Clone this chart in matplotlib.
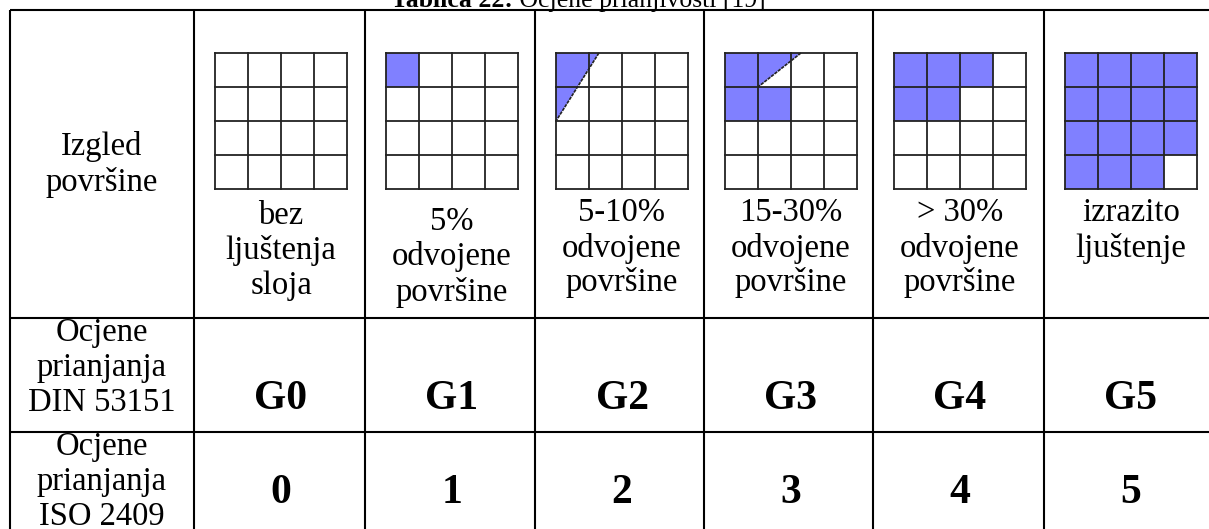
import matplotlib
matplotlib.use('Agg')
import matplotlib.pyplot as plt
from matplotlib.patches import Rectangle, Polygon

# table content
title_bold = 'Tablica 22:'
title_rest = ' Ocjene prianjivosti [19]'
row_headers = ['Izgled\npovršine', 'Ocjene\nprianjanja\nDIN 53151', 'Ocjene\nprianjanja\nISO 2409']
descriptions = ['bez\nljuštenja\nsloja', '5%\nodvojene\npovršine', '5-10%\nodvojene\npovršine',
                '15-30%\nodvojene\npovršine', '> 30%\nodvojene\npovršine', 'izrazito\nljuštenje']
din_grades = ['G0', 'G1', 'G2', 'G3', 'G4', 'G5']
iso_grades = ['0', '1', '2', '3', '4', '5']

# filled cells of each 4x4 icon as (row, col), plus partial triangles in cell units (x, y)
filled_cells = [
    [],
    [(0, 0)],
    [],
    [(0, 0), (1, 0), (1, 1)],
    [(0, 0), (0, 1), (0, 2), (1, 0), (1, 1)],
    [(r, c) for r in range(4) for c in range(4) if (r, c) != (3, 3)],
]
partial_shapes = [
    None,
    None,
    [(0, 0), (1.3, 0), (0, 2)],
    [(1, 0), (2.3, 0), (1, 1)],
    None,
    None,
]

W, H = 1209, 529
FILL = '#8080ff'
SERIF = ['Liberation Serif', 'DejaVu Serif']

col_edges = [10, 194, 365, 535, 704, 873, 1044, 1216]
row_edges = [10, 318, 432, 540]
desc_top = [216, 222, 213, 213, 213, 213]
line_h = 35
icon_w, icon_h, icon_top, icon_pad = 132, 136, 53, 21

fig = plt.figure(figsize=(W / 100, H / 100), dpi=100)
ax = fig.add_axes([0, 0, 1, 1])
ax.set_xlim(0, W)
ax.set_ylim(H, 0)
ax.axis('off')

# title, partly cut by the top edge
t = ax.text(391, 7, title_bold, fontsize=18.5, fontweight='bold', family=SERIF, va='baseline')
fig.canvas.draw()
bb = t.get_window_extent().transformed(ax.transData.inverted())
ax.text(bb.x1, 7, title_rest, fontsize=18.5, family=SERIF, va='baseline')

# table grid
for x in col_edges:
    ax.plot([x, x], [row_edges[0], row_edges[-1]], color='black', lw=1.5, solid_capstyle='butt')
for y in row_edges:
    ax.plot([col_edges[0], col_edges[-1]], [y, y], color='black', lw=1.5, solid_capstyle='butt')


def draw_lines(text, cx, y0):
    for i, line in enumerate(text.split('\n')):
        ax.text(cx, y0 + i * line_h, line, fontsize=23.5, family=SERIF, ha='center', va='center')


# first column
c0 = (col_edges[0] + col_edges[1]) / 2
draw_lines(row_headers[0], c0, 147)
draw_lines(row_headers[1], c0, 333)
draw_lines(row_headers[2], c0, 447)

for i in range(len(descriptions)):
    left = col_edges[i + 1]
    # icon
    x0 = left + icon_pad
    cw, ch = icon_w / 4, icon_h / 4
    for r, c in filled_cells[i]:
        ax.add_patch(Rectangle((x0 + c * cw, icon_top + r * ch), cw, ch, facecolor=FILL, edgecolor='none'))
    if partial_shapes[i] is not None:
        pts = [(x0 + px * cw, icon_top + py * ch) for px, py in partial_shapes[i]]
        ax.add_patch(Polygon(pts, closed=True, facecolor=FILL, edgecolor='none'))
        ax.plot([pts[1][0], pts[2][0]], [pts[1][1], pts[2][1]], color='#222222', lw=1.2, ls=(0, (2, 0.6)))
    for k in range(5):
        ax.plot([x0 + k * cw, x0 + k * cw], [icon_top, icon_top + icon_h], color='#222222', lw=1.3,
                solid_capstyle='projecting')
        ax.plot([x0, x0 + icon_w], [icon_top + k * ch, icon_top + k * ch], color='#222222', lw=1.3,
                solid_capstyle='projecting')
    icx = x0 + icon_w / 2
    draw_lines(descriptions[i], icx, desc_top[i])
    ax.text(icx, 399, din_grades[i], fontsize=30, fontweight='bold', family=SERIF, ha='center', va='center')
    ax.text(icx, 493, iso_grades[i], fontsize=30, fontweight='bold', family=SERIF, ha='center', va='center')

fig.savefig('out.png', dpi=100)
